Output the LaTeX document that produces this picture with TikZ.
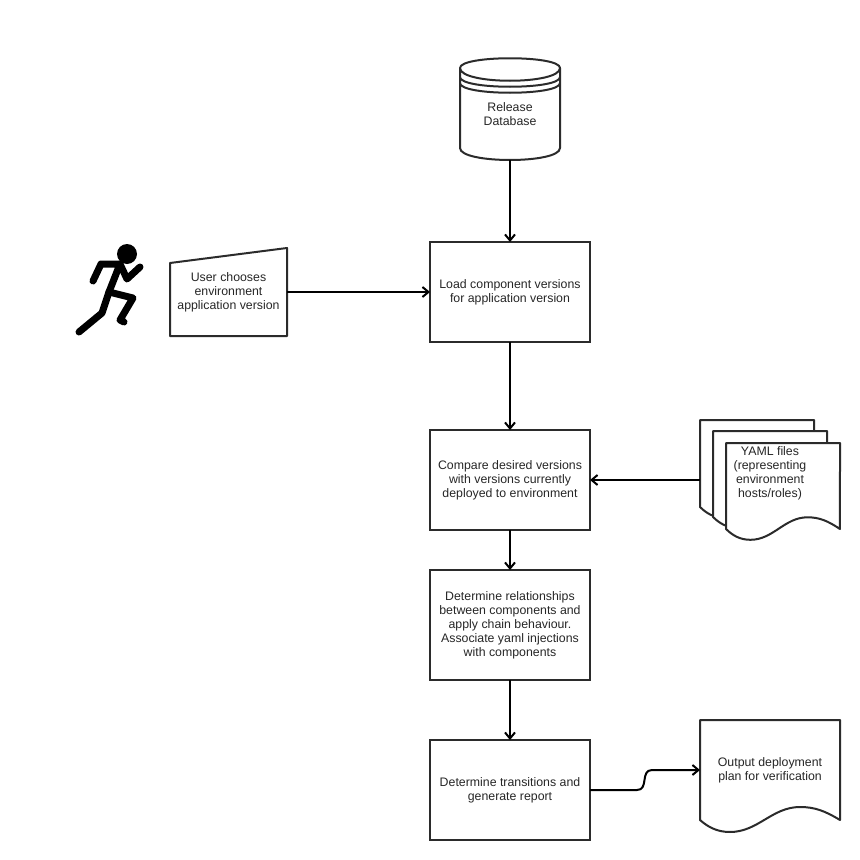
\documentclass[tikz,border=0pt]{standalone}
\usepackage{fontspec}
\setmainfont{Liberation Sans}
\usetikzlibrary{positioning,arrows.meta}

\definecolor{boxgrey}{HTML}{2B2B2B}

\newcommand{\docshape}[3]{
    \draw[docline, shift={(#1.south west)}, xscale=#2, yscale=#3]
        (#1.north west) -- (#1.north east) -- (140,0)
        .. controls (125,-9) and (115,-13) .. (100,-13)
        .. controls (72,-13) and (58,12) .. (30,12)
        .. controls (17,12) and (8,7) .. (0,0) -- cycle;
}

\begin{document}
\begin{tikzpicture}[
    x=0.75pt, y=-0.75pt,
    every node/.style={font=\fontsize{9.25}{10.5}\selectfont, align=center, text=black!85, inner sep=0pt, outer sep=0pt},
    procbox/.style={rectangle, draw=boxgrey, line width=1.5pt, minimum width=120pt},
    bodybox/.style={rectangle},
    shapeline/.style={draw=boxgrey, line width=1.5pt, line join=round},
    docline/.style={shapeline, fill=white},
    flowline/.style={-{Straight Barb[length=4.5pt, width=7.5pt]}, draw=black, line width=1.5pt},
    runner/.style={draw=black, line width=5.25pt, line cap=round, line join=round}
    ]
        \useasboundingbox (0,0) rectangle (860,860);

        %Nodes
        \node[bodybox, minimum width=75pt, minimum height=69pt]
            (db) at (510,114)       {Release\\Database};
        \node[procbox, minimum height=75pt]
            (load)    [below=61.5pt of db]      {Load component versions\\for application version};
        \node[procbox, minimum height=75pt]
            (compare) [below=66pt of load]      {Compare desired versions\\with versions currently\\deployed to environment};
        \node[procbox, minimum height=82.5pt]
            (relate)  [below=30pt of compare]   {Determine relationships\\between components and\\apply chain behaviour.\\Associate yaml injections\\with components};
        \node[procbox, minimum height=75pt]
            (report)  [below=45pt of relate]    {Determine transitions and\\generate report};
        \node[bodybox, minimum width=87.75pt, minimum height=66pt]
            (input)   [left=107.25pt of load]   {User chooses\\environment\\application version};
        \node[bodybox, minimum width=85.5pt, minimum height=65.25pt]
            (yamla) at (757,463.5)  {};
        \node[bodybox, minimum width=85.5pt, minimum height=64.5pt]
            (yamlb) at (770,474)    {};
        \node[bodybox, minimum width=85.5pt, minimum height=64.5pt]
            (yamlc) at (783,486)    {};
        \node[bodybox, minimum width=105pt, minimum height=75pt]
            (output) at (770,770)   {};

        %Shapes
        \draw[shapeline]
            (db.north west)
            .. controls +(0,-13) and +(0,-13) .. (db.north east)
            .. controls +(0,17) and +(0,17) .. (db.north west)
            -- ([shift={(0,-12)}]db.south west)
            .. controls +(0,16) and +(0,16) .. ([shift={(0,-12)}]db.south east)
            -- (db.north east)
            ([shift={(0,9)}]db.north west) .. controls +(0,13) and +(0,13) .. ([shift={(0,9)}]db.north east)
            ([shift={(0,15)}]db.north west) .. controls +(0,13) and +(0,13) .. ([shift={(0,15)}]db.north east);
        \draw[shapeline]
            (input.south west) -- (input.south east) -- (input.north east)
            -- ([shift={(0,15)}]input.north west) -- cycle;
        \docshape{yamla}{0.814}{0.9}
        \docshape{yamlb}{0.814}{0.9}
        \docshape{yamlc}{0.814}{0.9}
        \docshape{output}{1}{1}
        \node (yamltext) at ([shift={(-13,-13)}]yamlc.center)
            {YAML files\\(representing\\environment\\hosts/roles)};
        \node (outputtext) at (output.center)
            {Output deployment\\plan for verification};

        %Runner
        \fill[black] (127,254) circle [radius=7.5pt];
        \draw[runner] (93,281) -- (101,264) -- (120,264) -- (109,292) -- (102,313) -- (79,332);
        \draw[runner] (109,292) -- (133,298) -- (120,320) -- (124,322);
        \draw[runner] (120,264) -- (127,279) -- (140,267);

        %Lines
        \draw[flowline] (db.south) -- (load.north);
        \draw[flowline] (input.east) -- (load.west);
        \draw[flowline] (load.south) -- (compare.north);
        \draw[flowline] (yamla.west |- compare.east) -- (compare.east);
        \draw[flowline] (compare.south) -- (relate.north);
        \draw[flowline] (relate.south) -- (report.north);
        \draw[flowline] (report.east) -- ++(47,0)
            .. controls +(12,0) and +(-12,0) .. ++(15,-20)
            -- (output.west);
    \end{tikzpicture}
\end{document}
